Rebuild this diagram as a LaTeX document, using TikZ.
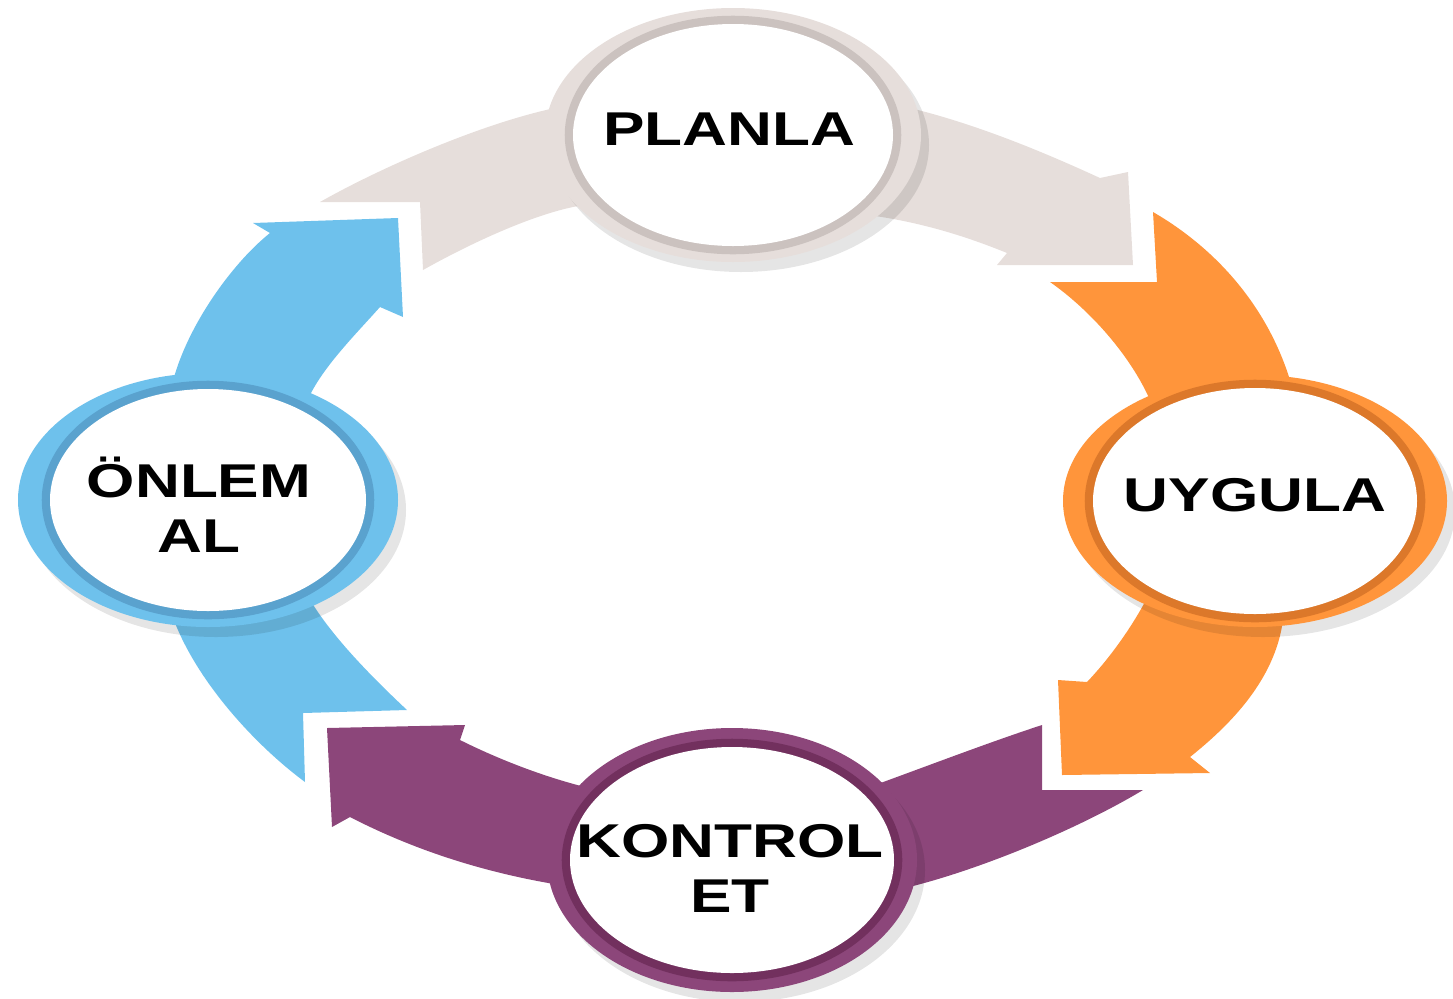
\documentclass[tikz,border=0pt]{standalone}
\usepackage{fontspec}
\setmainfont{Liberation Sans}
\usetikzlibrary{shapes.geometric}
\definecolor{gry}{HTML}{E6DEDB}
\definecolor{gryd}{HTML}{CBC2BF}
\definecolor{org}{HTML}{FF953B}
\definecolor{orgd}{HTML}{DC782A}
\definecolor{pur}{HTML}{8C467A}
\definecolor{purd}{HTML}{72305E}
\definecolor{blu}{HTML}{6EC1EC}
\definecolor{blud}{HTML}{5AA2CE}
\begin{document}
\begin{tikzpicture}[x=0.02cm,y=-0.02cm,
  lbl/.style={font=\fontsize{27}{31.2}\selectfont\bfseries, xscale=1.31, align=center, text=black, inner sep=0pt},
  shadowring/.style={fill=black, opacity=0.10}]
\useasboundingbox (0,0) rectangle (1453,998);

% ---- arrows (bands) ----
% grey arrow through PLANLA
\fill[gry] (320,202) .. controls (380,168) and (480,124) .. (555,108)
  -- (910,108) .. controls (980,125) and (1050,155) .. (1100,178)
  -- (1128,172) -- (1133,265) -- (997,265) -- (1007,253)
  .. controls (975,240) and (930,224) .. (875,216)
  -- (733,235) -- (585,205)
  .. controls (545,210) and (480,238) .. (423,270)
  -- (420,202) -- cycle;
% orange arrow through UYGULA
\fill[org] (1153,212) .. controls (1210,245) and (1265,300) .. (1290,380)
  -- (1283,620) .. controls (1275,680) and (1230,725) .. (1190,757)
  -- (1210,773) -- (1062,775) -- (1058,680) -- (1087,682)
  .. controls (1108,660) and (1130,630) .. (1146,600)
  -- (1150,400) .. controls (1130,355) and (1090,310) .. (1050,282)
  -- (1157,282) -- cycle;
% purple arrow through KONTROL ET
\fill[pur] (1143,790) .. controls (1080,828) and (980,870) .. (905,888)
  -- (560,885) .. controls (480,872) and (410,848) .. (350,817)
  -- (332,827) -- (327,728) -- (465,725) -- (460,740)
  .. controls (500,760) and (545,777) .. (585,787)
  -- (732,800) -- (875,785)
  .. controls (930,765) and (990,742) .. (1042,725)
  -- (1042,790) -- cycle;
% blue arrow through ONLEM AL
\fill[blu] (305,782) .. controls (255,745) and (195,680) .. (172,615)
  -- (172,385) .. controls (185,330) and (230,265) .. (270,233)
  -- (253,223) -- (398,218) -- (403,317) -- (380,307)
  .. controls (355,335) and (325,365) .. (310,395)
  -- (312,603) .. controls (335,640) and (375,680) .. (407,710)
  -- (303,713) -- cycle;

% ---- rings ----
% PLANLA
\fill[shadowring] (741,145) ellipse [x radius=188, y radius=127];
\fill[gry] (733,135) ellipse [x radius=188, y radius=127];
\draw[gryd, line width=6] (733,135) ellipse [x radius=163, y radius=114];
\fill[white] (733,135) ellipse [x radius=160, y radius=111];
% UYGULA
\fill[shadowring] (1263,511) ellipse [x radius=192, y radius=126];
\fill[org] (1255,501) ellipse [x radius=192, y radius=126];
\draw[orgd, line width=6] (1255,501) ellipse [x radius=165, y radius=116];
\fill[white] (1255,501) ellipse [x radius=162, y radius=113];
% KONTROL ET
\fill[shadowring] (740,870) ellipse [x radius=185, y radius=132];
\fill[pur] (732,860) ellipse [x radius=185, y radius=132];
\draw[purd, line width=6] (732,860) ellipse [x radius=165, y radius=116];
\fill[white] (732,860) ellipse [x radius=162, y radius=113];
% ONLEM AL
\fill[shadowring] (216,510) ellipse [x radius=190, y radius=127];
\fill[blu] (208,500) ellipse [x radius=190, y radius=127];
\draw[blud, line width=6] (208,500) ellipse [x radius=161, y radius=114];
\fill[white] (208,500) ellipse [x radius=158, y radius=111];

% ---- labels ----
\node[lbl] (plan) at (729,129.5) {PLANLA};
\node[lbl] (do) at (1255,495) {UYGULA};
\node[lbl] (check) at (730,868.5) {KONTROL\\ET};
\node[lbl] (act) at (199,504.5) {ÖNLEM\\AL};
\end{tikzpicture}
\end{document}
